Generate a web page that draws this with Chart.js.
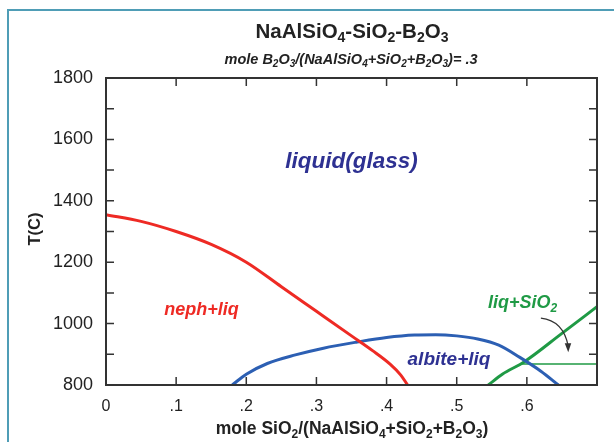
<!DOCTYPE html>
<html lang="en">
<head>
  <meta charset="UTF-8" />
  <title>NaAlSiO4-SiO2-B2O3</title>
  <script src="https://cdn.jsdelivr.net/npm/chart.js"></script>
  <style>
    html, body { margin: 0; padding: 0; background: #fff; }
    #wrap { width: 614px; height: 442px; }
  </style>
</head>
<body>
  <div id="wrap"><canvas id="phaseChart" width="614" height="442"></canvas></div>

  <script>
    // liquidus curves (x = mole SiO2 fraction, y = T in C)
    const nephX   = [0, 0.05, 0.10, 0.15, 0.20, 0.25, 0.30, 0.35, 0.38, 0.405, 0.42, 0.43];
    const nephT   = [1355, 1333, 1300, 1258, 1200, 1120, 1040, 960, 912, 868, 833, 800];
    const albiteX = [0.18, 0.20, 0.23, 0.27, 0.31, 0.358, 0.40, 0.44, 0.47, 0.50, 0.53, 0.56, 0.59, 0.62, 0.645];
    const albiteT = [800, 835, 870, 898, 920, 940, 955, 963, 964, 960, 950, 930, 890, 845, 800];
    const silicaX = [0.545, 0.565, 0.596, 0.65, 0.70];
    const silicaT = [800, 835, 875, 968, 1055];
    const solidusX = [0.592, 0.70];
    const solidusT = [868, 868];

    const xTicks = [0, 0.1, 0.2, 0.3, 0.4, 0.5, 0.6, 0.7];
    const yTicks = [800, 1000, 1200, 1400, 1600, 1800];

    // field labels: [text, x, T, color, font size]
    const fieldLabels = [
      ['liquid(glass)', 0.35, 1528, '#2e3192', 22.5],
      ['neph+liq', 0.136, 1044, '#ee2a24', 18],
      ['albite+liq', 0.489, 882, '#2e3192', 19],
      ['liq+SiO_2', 0.594, 1066, '#1f9a45', 18]
    ];
    // arrow from liq+SiO2 label down to the solidus
    const arrowX = [0.62, 0.652, 0.659];
    const arrowT = [1018, 1010, 907];

    const toPts = (xs, ys) => xs.map((x, i) => ({ x: x, y: ys[i] }));

    // text with "_c" meaning subscript c
    function drawRich(ctx, str, x, y, size, style, color, align) {
      const parts = [];
      for (let i = 0; i < str.length; i++) {
        if (str[i] === '_' && i + 1 < str.length) { parts.push({ t: str[i + 1], sub: true }); i++; }
        else parts.push({ t: str[i], sub: false });
      }
      const subSize = Math.round(size * 0.68);
      let w = 0;
      parts.forEach(p => {
        ctx.font = style + ' ' + (p.sub ? subSize : size) + 'px "Liberation Sans", Arial, sans-serif';
        p.w = ctx.measureText(p.t).width;
        w += p.w;
      });
      let cx = align === 'center' ? x - w / 2 : x;
      ctx.fillStyle = color;
      ctx.textAlign = 'left';
      ctx.textBaseline = 'middle';
      parts.forEach(p => {
        ctx.font = style + ' ' + (p.sub ? subSize : size) + 'px "Liberation Sans", Arial, sans-serif';
        ctx.fillText(p.t, cx, p.sub ? y + size * 0.3 : y);
        cx += p.w;
      });
    }

    const decor = {
      id: 'decor',
      afterDraw(chart) {
        const ctx = chart.ctx;
        const a = chart.chartArea;
        const xs = chart.scales.x, ys = chart.scales.y;
        ctx.save();

        // teal page frame
        ctx.strokeStyle = '#4f9db6';
        ctx.lineWidth = 2;
        ctx.beginPath();
        ctx.moveTo(8, 442); ctx.lineTo(8, 10); ctx.lineTo(614, 10);
        ctx.stroke();

        // plot box
        ctx.strokeStyle = '#333';
        ctx.lineWidth = 2;
        ctx.strokeRect(a.left, a.top, a.right - a.left, a.bottom - a.top);

        // inward ticks
        ctx.lineWidth = 1.5;
        ctx.beginPath();
        xs.ticks.forEach(t => {
          const px = xs.getPixelForValue(t.value);
          ctx.moveTo(px, a.bottom); ctx.lineTo(px, a.bottom - 8);
          ctx.moveTo(px, a.top); ctx.lineTo(px, a.top + 8);
        });
        ys.ticks.forEach(t => {
          const py = ys.getPixelForValue(t.value);
          ctx.moveTo(a.left, py); ctx.lineTo(a.left + 8, py);
          ctx.moveTo(a.right, py); ctx.lineTo(a.right - 8, py);
        });
        ctx.stroke();

        // titles
        drawRich(ctx, 'NaAlSiO_4-SiO_2-B_2O_3', 352, 32, 20.5, 'bold', '#222', 'center');
        drawRich(ctx, 'mole B_2O_3/(NaAlSiO_4+SiO_2+B_2O_3)= .3', 351, 60, 14.5, 'italic bold', '#222', 'center');
        drawRich(ctx, 'mole SiO_2/(NaAlSiO_4+SiO_2+B_2O_3)', 352, 429, 17.5, 'bold', '#222', 'center');

        ctx.save();
        ctx.translate(35, 229);
        ctx.rotate(-Math.PI / 2);
        drawRich(ctx, 'T(C)', 0, 0, 16.5, 'bold', '#222', 'center');
        ctx.restore();

        // field labels
        fieldLabels.forEach(l => {
          drawRich(ctx, l[0], xs.getPixelForValue(l[1]), ys.getPixelForValue(l[2]), l[4], 'italic bold', l[3], 'center');
        });

        // arrow
        const p = arrowX.map((v, i) => [xs.getPixelForValue(v), ys.getPixelForValue(arrowT[i])]);
        ctx.strokeStyle = '#333';
        ctx.fillStyle = '#333';
        ctx.lineWidth = 1.2;
        ctx.beginPath();
        ctx.moveTo(p[0][0], p[0][1]);
        ctx.quadraticCurveTo(p[1][0], p[1][1], p[2][0], p[2][1] - 6);
        ctx.stroke();
        ctx.beginPath();
        ctx.moveTo(p[2][0], p[2][1]);
        ctx.lineTo(p[2][0] - 3.5, p[2][1] - 9);
        ctx.lineTo(p[2][0] + 3, p[2][1] - 9);
        ctx.closePath();
        ctx.fill();

        ctx.restore();
      }
    };

    const line = (data, color, width) => ({
      data: data,
      showLine: true,
      borderColor: color,
      borderWidth: width,
      pointRadius: 0,
      cubicInterpolationMode: 'monotone',
      fill: false
    });

    new Chart(document.getElementById('phaseChart'), {
      type: 'scatter',
      data: {
        datasets: [
          line(toPts(nephX, nephT), '#ee2a24', 3),
          line(toPts(albiteX, albiteT), '#2c5fb3', 3),
          line(toPts(silicaX, silicaT), '#1f9a45', 3),
          line(toPts(solidusX, solidusT), '#1f9a45', 1.5)
        ]
      },
      options: {
        responsive: false,
        animation: false,
        layout: { padding: { top: 78, right: 17, left: 0, bottom: 0 } },
        plugins: { legend: { display: false }, tooltip: { enabled: false } },
        scales: {
          x: {
            type: 'linear', min: 0, max: 0.7,
            grid: { display: false, drawTicks: false },
            border: { display: false },
            afterFit: s => { s.height = 57; },
            afterBuildTicks: s => { s.ticks = xTicks.map(v => ({ value: v })); },
            ticks: {
              autoSkip: false, maxRotation: 0, padding: 12,
              color: '#222',
              font: { family: '"Liberation Sans", Arial, sans-serif', size: 16 },
              callback: v => {
                const r = Math.round(v * 10) / 10;
                if (r === 0) return '0';
                if (r >= 0.7) return '';
                return String(r).replace('0.', '.');
              }
            }
          },
          y: {
            type: 'linear', min: 800, max: 1800,
            grid: { display: false, drawTicks: false },
            border: { display: false },
            afterFit: s => { s.width = 106; },
            afterBuildTicks: s => {
              const t = [];
              for (let i = 0; i <= 10; i++) t.push({ value: 800 + i * 100 });
              s.ticks = t;
            },
            ticks: {
              autoSkip: false, padding: 13,
              color: '#222',
              font: { family: '"Liberation Sans", Arial, sans-serif', size: 18 },
              callback: v => (yTicks.indexOf(v) >= 0 ? String(v) : '')
            }
          }
        }
      },
      plugins: [decor]
    });
  </script>
</body>
</html>
